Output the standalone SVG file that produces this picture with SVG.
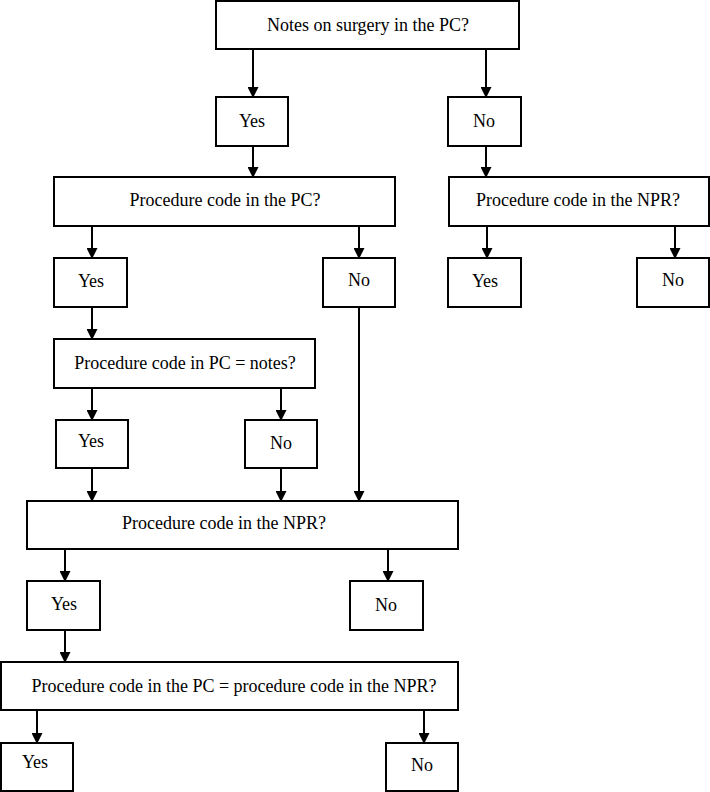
<svg xmlns="http://www.w3.org/2000/svg" width="710" height="792" viewBox="0 0 710 792">
<style>
.box{fill:#fff;stroke:#000;stroke-width:2}
text{font-family:'Liberation Serif','DejaVu Serif',serif;font-size:18px;fill:#000;text-anchor:middle}
.c{stroke:#000;stroke-width:2;fill:none;marker-end:url(#ah)}
</style>
<defs>
<marker id="ah" viewBox="0 0 11 11" refX="10" refY="5.5" markerWidth="11" markerHeight="11" markerUnits="userSpaceOnUse" orient="auto">
<path d="M0,0 L11,5.5 L0,11 z" fill="#000"/>
</marker>
</defs>
<g id="connectors">
<line class="c" x1="253" y1="49" x2="253" y2="97"/>
<line class="c" x1="486" y1="49" x2="486" y2="97"/>
<line class="c" x1="253" y1="146" x2="253" y2="177"/>
<line class="c" x1="486" y1="146" x2="486" y2="177"/>
<line class="c" x1="92" y1="226" x2="92" y2="258"/>
<line class="c" x1="359" y1="226" x2="359" y2="258"/>
<line class="c" x1="487" y1="226" x2="487" y2="258"/>
<line class="c" x1="675" y1="226" x2="675" y2="258"/>
<line class="c" x1="92" y1="307" x2="92" y2="339"/>
<line class="c" x1="92" y1="388" x2="92" y2="420"/>
<line class="c" x1="281" y1="388" x2="281" y2="420"/>
<line class="c" x1="92" y1="468" x2="92" y2="501"/>
<line class="c" x1="281" y1="468" x2="281" y2="501"/>
<line class="c" x1="359" y1="307" x2="359" y2="501"/>
<line class="c" x1="65" y1="549" x2="65" y2="581"/>
<line class="c" x1="388" y1="549" x2="388" y2="581"/>
<line class="c" x1="65" y1="630" x2="65" y2="662"/>
<line class="c" x1="37" y1="710" x2="37" y2="743"/>
<line class="c" x1="424" y1="710" x2="424" y2="743"/>
</g>
<g id="n-surgery"><rect class="box" x="216" y="1" width="303" height="48"/><text x="368" y="31">Notes on surgery in the PC?</text></g>
<g id="n-yes1"><rect class="box" x="216" y="97" width="72" height="49"/><text x="252" y="127">Yes</text></g>
<g id="n-no1"><rect class="box" x="448" y="97" width="73" height="49"/><text x="484" y="127">No</text></g>
<g id="n-pc"><rect class="box" x="54" y="177" width="341" height="49"/><text x="225" y="206">Procedure code in the PC?</text></g>
<g id="n-npr1"><rect class="box" x="449" y="177" width="260" height="49"/><text x="578" y="206">Procedure code in the NPR?</text></g>
<g id="n-yes2"><rect class="box" x="54" y="258" width="73" height="49"/><text x="91" y="287">Yes</text></g>
<g id="n-no2"><rect class="box" x="323" y="258" width="72" height="49"/><text x="359" y="286">No</text></g>
<g id="n-yes3"><rect class="box" x="448" y="258" width="73" height="49"/><text x="485" y="287">Yes</text></g>
<g id="n-no3"><rect class="box" x="637" y="258" width="72" height="49"/><text x="673" y="286">No</text></g>
<g id="n-notes"><rect class="box" x="54" y="339" width="261" height="49"/><text x="185" y="369">Procedure code in PC = notes?</text></g>
<g id="n-yes4"><rect class="box" x="56" y="420" width="72" height="48"/><text x="91" y="447">Yes</text></g>
<g id="n-no4"><rect class="box" x="245" y="420" width="72" height="48"/><text x="281" y="449">No</text></g>
<g id="n-npr2"><rect class="box" x="27" y="501" width="431" height="48"/><text x="224" y="529">Procedure code in the NPR?</text></g>
<g id="n-yes5"><rect class="box" x="27" y="581" width="73" height="49"/><text x="64" y="610">Yes</text></g>
<g id="n-no5"><rect class="box" x="350" y="581" width="73" height="49"/><text x="386" y="611">No</text></g>
<g id="n-equal"><rect class="box" x="1" y="662" width="457" height="48"/><text x="234" y="692">Procedure code in the PC = procedure code in the NPR?</text></g>
<g id="n-yes6"><rect class="box" x="1" y="743" width="72" height="48"/><text x="35" y="768">Yes</text></g>
<g id="n-no6"><rect class="box" x="386" y="743" width="72" height="48"/><text x="422" y="771">No</text></g>
</svg>
